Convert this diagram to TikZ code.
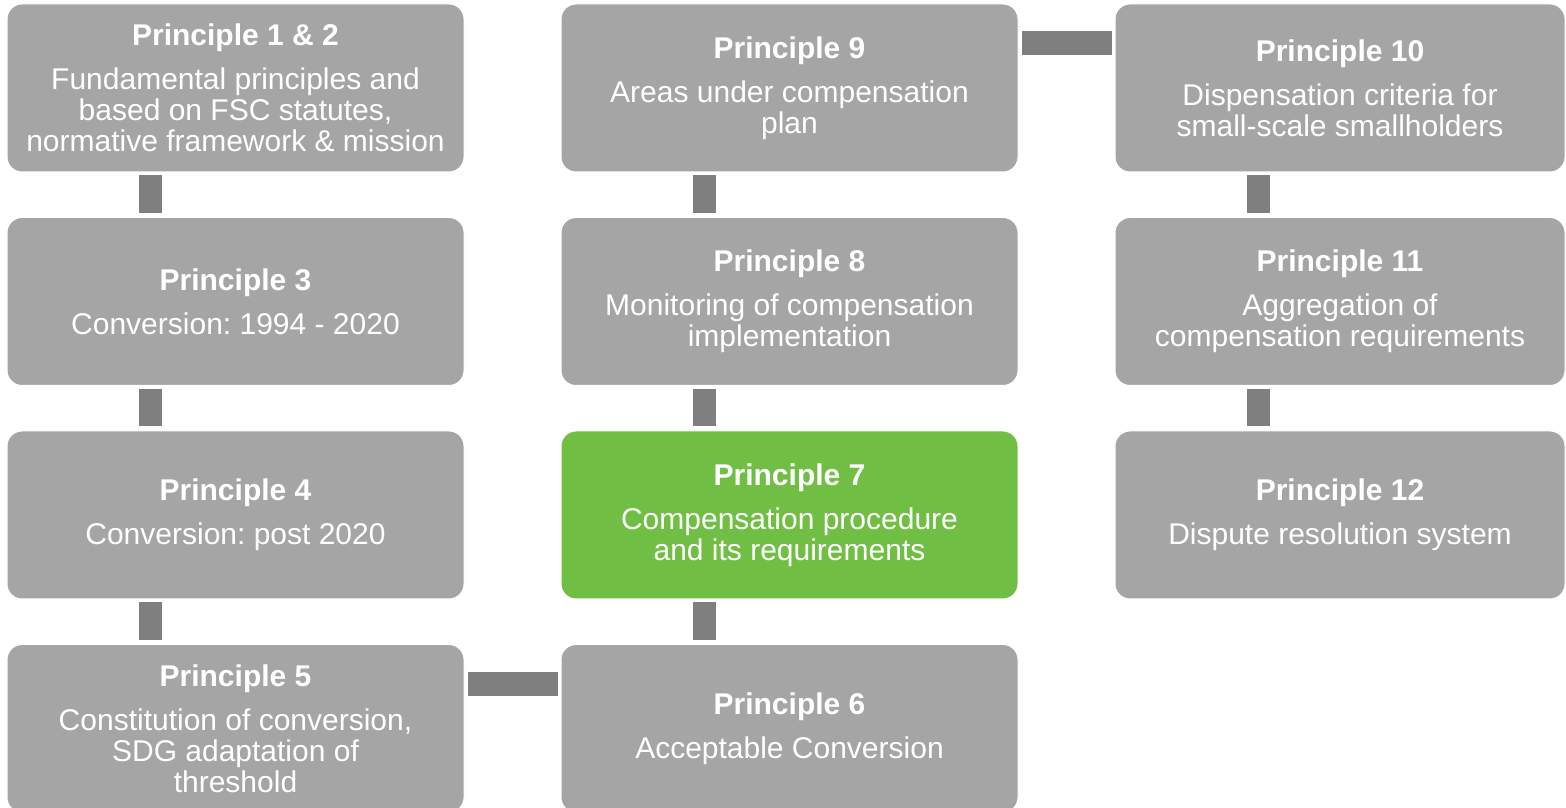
\documentclass[tikz,border=0pt]{standalone}
\usepackage{fontspec}
\setmainfont{Liberation Sans}
\frenchspacing
\usetikzlibrary{calc}
\definecolor{boxgray}{HTML}{A5A5A5}
\definecolor{conngray}{HTML}{7F7F7F}
\definecolor{boxgreen}{HTML}{70BF44}
\tikzset{
  pbox/.style={rectangle, rounded corners=15pt, fill=boxgray, draw=white, line width=1pt,
    minimum width=457pt, minimum height=168pt, inner sep=0pt, text=white, align=center,
    font=\fontsize{30}{31}\selectfont},
  pboxnarrow/.style={pbox, minimum width=450pt},
  greenbox/.style={fill=boxgreen},
  connbar/.style={fill=conngray, draw=none}
}
\newcommand{\ptitle}[1]{\textbf{#1}\\[13pt]}
\begin{document}
\frenchspacing
\begin{tikzpicture}[x=1pt,y=1pt]
\useasboundingbox (0,0) rectangle (1566,808);
% rows (image y): 4-172, 218-385, 431-598, 645-812
% column 1
\node[pbox] (p12) at (235.5,720) {\ptitle{Principle 1 \& 2}Fundamental principles and\\based on FSC statutes,\\normative framework \& mission};
\node[pbox] (p3) at (235.5,506.5) {\ptitle{Principle 3}Conversion: 1994 - 2020};
\node[pbox] (p4) at (235.5,293) {\ptitle{Principle 4}Conversion: post 2020};
\node[pbox] (p5) at (235.5,79.5) {\ptitle{Principle 5}Constitution of conversion,\\SDG adaptation of\\threshold};
% column 2
\node[pbox] (p9) at (789.5,720) {\ptitle{Principle 9}Areas under compensation\\plan};
\node[pbox] (p8) at (789.5,506.5) {\ptitle{Principle 8}Monitoring of compensation\\implementation};
\node[pbox,greenbox] (p7) at (789.5,293) {\ptitle{Principle 7}Compensation procedure\\and its requirements};
\node[pbox] (p6) at (789.5,79.5) {\ptitle{Principle 6}Acceptable Conversion};
% column 3
\node[pboxnarrow] (p10) at (1340,720) {\ptitle{Principle 10}Dispensation criteria for\\small-scale smallholders};
\node[pboxnarrow] (p11) at (1340,506.5) {\ptitle{Principle 11}Aggregation of\\compensation requirements};
\node[pboxnarrow] (p12b) at (1340,293) {\ptitle{Principle 12}Dispute resolution system};
% vertical connectors
\foreach \a/\b in {p12/p3, p3/p4, p4/p5, p9/p8, p8/p7, p7/p6, p10/p11, p11/p12b}{
  \fill[connbar] ($(\a.south west)+(132,-3)$) rectangle ($(\b.north west)+(155,4)$);
}
% horizontal connectors
\fill[connbar] ($(p5.north east)+(3,-28)$) rectangle ($(p6.north west)+(-3,-52)$);
\fill[connbar] ($(p9.north east)+(3,-28)$) rectangle ($(p10.north west)+(-3,-52)$);
\end{tikzpicture}
\end{document}
